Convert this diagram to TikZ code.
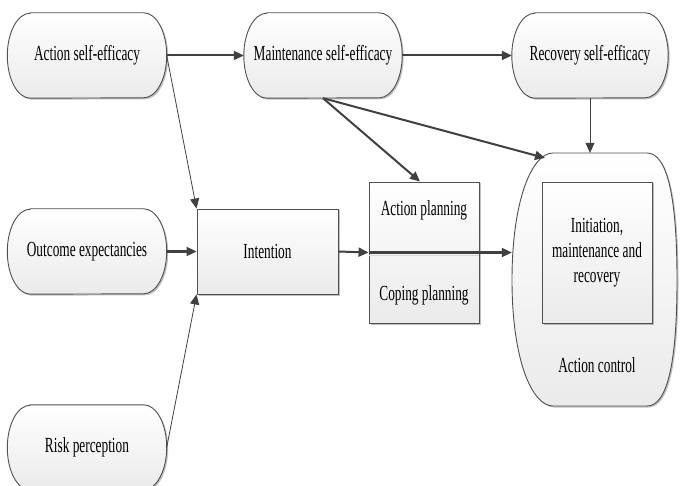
\documentclass[tikz,border=0pt]{standalone}
\usepackage{fontspec}
\setmainfont{Liberation Serif}[FakeStretch=0.62]
\usetikzlibrary{arrows.meta,shadows,calc}
\pgfdeclarelayer{background}
\pgfsetlayers{background,main}
\definecolor{edge}{HTML}{404040}
\definecolor{outl}{HTML}{505050}
\newcommand\roundbox[1]{\path[shp] ([xshift=23pt]#1.north west) -- ([xshift=-23pt]#1.north east)
  arc[start angle=90,end angle=-90,x radius=23pt,y radius=42.5pt]
  -- ([xshift=23pt]#1.south west)
  arc[start angle=270,end angle=90,x radius=23pt,y radius=42.5pt] -- cycle;}
\begin{document}
\begin{tikzpicture}[x=1pt,y=-1pt,font=\fontsize{21.5}{25}\selectfont,
  shp/.style={draw=outl,line width=0.9pt,top color=white,bottom color=gray!16,
    drop shadow={shadow xshift=1.5pt,shadow yshift=-1.5pt,opacity=0.25,fill=black}},
  rb/.style={inner sep=0pt,minimum width=159pt,minimum height=85pt,align=center},
  bx/.style={shp,inner sep=0pt,align=center},
  arr/.style={draw=edge,-{Triangle[length=10pt,width=9pt]}},
  heavy/.style={arr,line width=2pt},
  light/.style={arr,line width=0.8pt}]
\useasboundingbox (0,0) rectangle (682,486);
% rounded nodes
\node[rb] (ase) at (87,55.5) {Action self-efficacy};
\node[rb,minimum width=158pt] (mse) at (323,55.5) {Maintenance self-efficacy};
\node[rb,minimum width=156pt] (rse) at (590,55.5) {Recovery self-efficacy};
\node[rb] (oe) at (87,251.5) {Outcome expectancies};
\node[rb] (rp) at (87,447.5) {Risk perception};
\begin{pgfonlayer}{background}
\roundbox{ase}\roundbox{mse}\roundbox{rse}\roundbox{oe}\roundbox{rp}
\end{pgfonlayer}
% action control
\node[inner sep=0pt,minimum width=165pt,minimum height=253pt] (ctrl) at (594.5,279.5) {};
\begin{pgfonlayer}{background}
\path[shp] (553,153) -- (647,153) .. controls (668,153) and (677,200) .. (677,280)
  .. controls (677,360) and (668,406) .. (647,406) -- (553,406)
  .. controls (532,406) and (512,360) .. (512,280)
  .. controls (512,200) and (532,153) .. (553,153) -- cycle;
\end{pgfonlayer}
\node (actl) at (597,365) {Action control};
\node[bx,minimum width=110pt,minimum height=141pt] (init) at (597,252.5) {Initiation,\\maintenance and\\recovery};
% intention and planning
\node[bx,minimum width=141pt,minimum height=85pt] (int) at (267.5,251.5) {Intention};
\node[bx,minimum width=110pt,minimum height=141pt] (plan) at (424,252.5) {};
\draw[gray!30,line width=0.8pt] ([yshift=-3pt]plan.west) -- ([yshift=-3pt]plan.east);
\node (ap) at (424,210) {Action planning};
\node (cp) at (424,295) {Coping planning};
\coordinate (ctrlin) at (545,158);
% connectors
\draw[heavy] (ase.east) -- (mse.west);
\draw[heavy] (mse.east) -- (rse.west);
\draw[light] (ase.east) -- (int.north west);
\draw[heavy] (oe.east) -- (int.west);
\draw[light] (rp.east) -- (int.south west);
\draw[heavy] (int.east) -- (plan.west);
\draw[heavy] (plan.west) -- (plan.west -| ctrl.west);
\draw[heavy] (mse.south) -- ([xshift=-4pt]plan.north);
\draw[heavy] (mse.south) -- (ctrlin);
\draw[light] (rse.south) -- (rse.south |- ctrl.north);
\end{tikzpicture}
\end{document}
